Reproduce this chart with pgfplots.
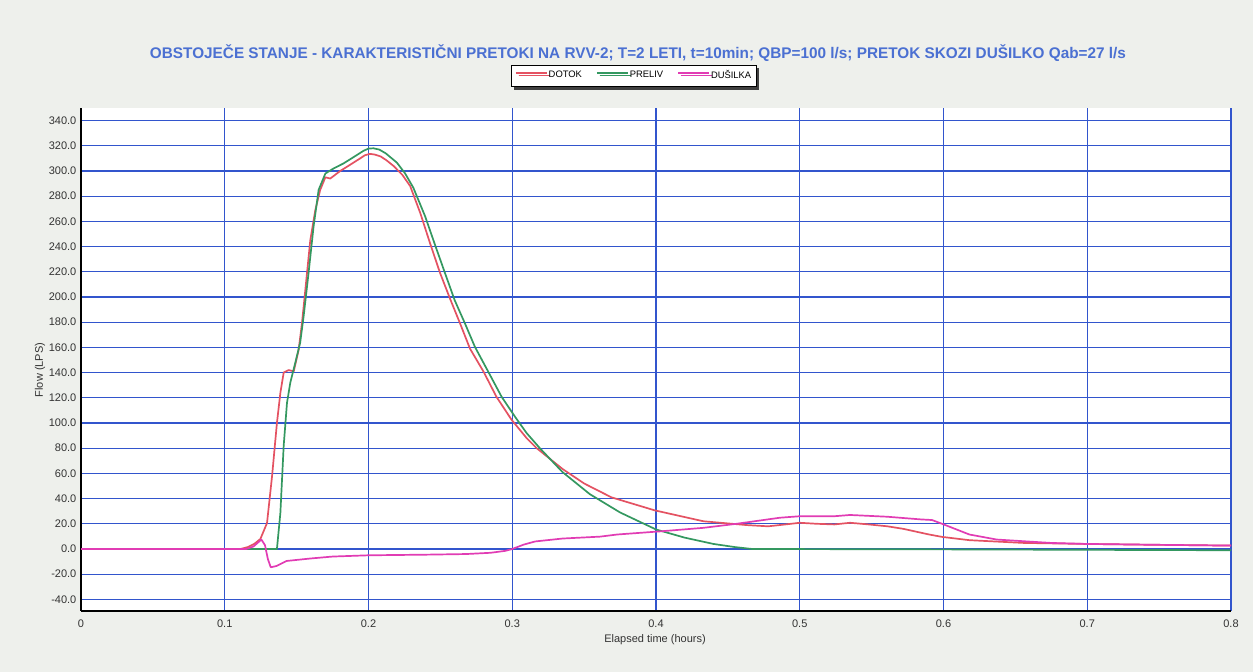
\documentclass[border=0pt]{standalone}
\usepackage{pgfplots}
\pgfplotsset{compat=1.18}
\usepackage{fontspec}
\setmainfont{Liberation Sans}
\usetikzlibrary{shadows}
\definecolor{bgc}{RGB}{238,240,236}
\definecolor{gridc}{RGB}{50,85,205}
\definecolor{titlec}{RGB}{75,112,210}
\definecolor{cdotok}{RGB}{228,82,98}
\definecolor{cpreliv}{RGB}{52,152,96}
\definecolor{cdus}{RGB}{225,60,180}
\begin{document}
\begin{tikzpicture}
\fill[bgc] (0,0) rectangle (626.5pt,336pt);
\useasboundingbox (0,0) rectangle (626.5pt,336pt);
\begin{axis}[
  at={(40.5pt,30.5pt)}, anchor=south west,
  scale only axis, width=575pt, height=251.5pt,
  xmin=0, xmax=0.8, ymin=-49.2, ymax=350,
  axis background/.style={fill=white},
  axis x line*=bottom, axis y line*=left,
  axis line style={black, line width=1pt, -},
  xtick={0,0.1,...,0.8},
  xticklabels={0,0.1,0.2,0.3,0.4,0.5,0.6,0.7,0.8},
  ytick={-40,-20,...,340},
  yticklabel={\pgfmathprintnumber[fixed,fixed zerofill,precision=1]{\tick}},
  /pgf/number format/assume math mode=true,
  tick label style={font=\fontsize{5.5}{6}\selectfont, text=black!80},
  yticklabel style={xshift=1.2pt},
  xticklabel style={yshift=-1pt},
  major tick length=0pt,
  grid=major,
  major grid style={gridc, line width=0.55pt},
  clip=false,
  legend style={at={(0.4805,1.0635)}, anchor=center, legend columns=3,
    draw=black, fill=white, line width=0.4pt, font=\fontsize{4.7}{5}\selectfont,
    inner xsep=2pt, inner ysep=0.6pt,
    drop shadow={shadow xshift=1.4pt, shadow yshift=-1.4pt, fill=black!75, opacity=1},
    /tikz/every even column/.append style={column sep=6.5pt},
    /tikz/every odd column/.append style={column sep=0pt},
    nodes={inner xsep=0.5pt}},
  legend image code/.code={\draw[#1, line width=0.9pt] (0pt,1.7pt) -- (15.5pt,1.7pt);},
  every axis plot/.append style={line width=0.85pt, line join=round},
]
\addplot[cdotok] coordinates {
(0,0) (0.1109,0) (0.116,1.5) (0.1205,4) (0.1248,8) (0.1294,20.6) (0.1329,57.7) (0.1363,100)
(0.1387,124) (0.141,140) (0.1444,142) (0.148,141) (0.1514,158) (0.1537,179) (0.156,205)
(0.1595,245) (0.163,269) (0.1664,285) (0.17,295) (0.1734,294) (0.1803,300) (0.1873,305)
(0.1942,310) (0.1975,312.5) (0.2010,313.6) (0.2045,313) (0.2085,311.5) (0.2125,308.5)
(0.2174,304) (0.2235,297) (0.229,288) (0.236,266.7) (0.2428,242.7)
(0.2498,219) (0.2567,198.7) (0.2637,179) (0.2706,159) (0.2799,141) (0.289,120.8)
(0.2995,102.6) (0.31,88) (0.317,80) (0.335,63.5) (0.35,52) (0.369,41) (0.399,30.7)
(0.433,22) (0.463,19) (0.478,18) (0.49,19.5) (0.5,20.8) (0.512,20) (0.524,19.5)
(0.535,20.8) (0.548,19.5) (0.561,18) (0.572,16) (0.580,14) (0.59,11.5) (0.599,9.6)
(0.618,7) (0.656,4.8) (0.7,4) (0.75,3.3) (0.8,2.7)
};
\addlegendentry{DOTOK}
\addplot[cpreliv] coordinates {
(0,0) (0.1363,0) (0.1387,28.7) (0.141,82) (0.1433,116) (0.1456,132) (0.1491,148)
(0.1525,164) (0.1549,185) (0.1583,219) (0.1618,256) (0.1653,285) (0.17,298) (0.1757,302)
(0.1826,306) (0.1896,311) (0.1965,316) (0.2000,317.8) (0.2035,318) (0.2075,317)
(0.2120,314) (0.2197,306.7) (0.2255,298) (0.2312,286.7)
(0.2394,264) (0.2463,241.3) (0.2532,219) (0.260,197.3) (0.2671,179) (0.274,160.5)
(0.2833,140.7) (0.2926,120.8) (0.3019,105) (0.31,92) (0.3192,80) (0.335,61) (0.354,43.5)
(0.375,29) (0.4,15.5) (0.42,9) (0.44,4) (0.455,1.5) (0.467,0) (0.6,-0.3) (0.8,-1)
};
\addlegendentry{PRELIV}
\addplot[cdus] coordinates {
(0,0) (0.115,0) (0.120,2) (0.1255,7.5) (0.128,3) (0.1300,-8) (0.1320,-14.5) (0.136,-13.5)
(0.143,-9.5) (0.16,-7.5) (0.175,-6) (0.2,-5) (0.24,-4.5) (0.268,-4) (0.285,-3)
(0.295,-1.5) (0.3,0) (0.308,3.5) (0.316,6) (0.335,8.3) (0.361,9.8) (0.373,11.5)
(0.403,14) (0.433,16.8) (0.456,20) (0.486,24.8) (0.5,26) (0.524,26) (0.535,27)
(0.561,25.6) (0.584,23.5) (0.592,23) (0.599,20) (0.618,11.5) (0.637,7.5) (0.675,4.8)
(0.7,4) (0.75,3.3) (0.8,2.7)
};
\addlegendentry{DUŠILKA}
\end{axis}
\node[text=titlec, font=\bfseries\fontsize{7.7}{9}\selectfont, inner sep=0pt] at (319pt,309.5pt)
  {\resizebox{488pt}{\height}{OBSTOJEČE STANJE - KARAKTERISTIČNI PRETOKI NA RVV-2; T=2 LETI, t=10min; QBP=100 l/s; PRETOK SKOZI DUŠILKO Qab=27 l/s}};
\node[font=\fontsize{5.5}{6}\selectfont, text=black!80, inner sep=0pt] at (327.5pt,16pt) {Elapsed time (hours)};
\node[font=\fontsize{5.5}{6}\selectfont, text=black!80, inner sep=0pt, rotate=90] at (20pt,151pt) {Flow (LPS)};
\end{tikzpicture}
\end{document}
